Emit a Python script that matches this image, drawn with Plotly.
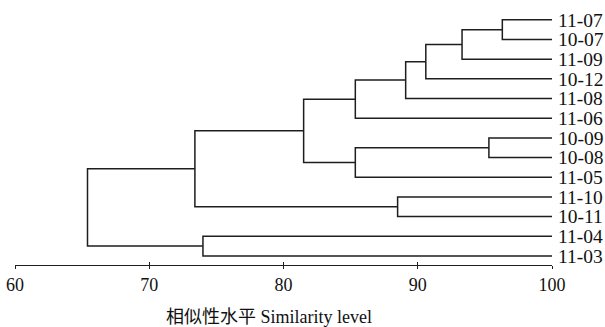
import plotly.graph_objects as go

# Leaf labels in display order (top to bottom)
leaves = ["11-07", "10-07", "11-09", "10-12", "11-08", "11-06",
          "10-09", "10-08", "11-05", "11-10", "10-11", "11-04", "11-03"]

# Merge steps: node ids 0..12 are leaves, each merge creates node 13, 14, ...
merge_left = [0, 13, 14, 15, 16, 6, 18, 17, 9, 20, 11, 22]
merge_right = [1, 2, 3, 4, 5, 7, 8, 19, 10, 21, 12, 23]
merge_level = [96.3, 93.3, 90.6, 89.1, 85.35, 95.3, 85.35, 81.5, 88.5, 73.4, 74.0, 65.4]

x_ticks = [60, 70, 80, 90, 100]

# Build dendrogram coordinates
pos = {i: float(i) for i in range(len(leaves))}
lvl = {i: 100.0 for i in range(len(leaves))}
xs, ys = [], []
nid = len(leaves)
for a, b, h in zip(merge_left, merge_right, merge_level):
    xs += [lvl[a], h, h, lvl[b], None]
    ys += [pos[a], pos[a], pos[b], pos[b], None]
    pos[nid] = (pos[a] + pos[b]) / 2
    lvl[nid] = h
    nid += 1

serif = "Times New Roman, Liberation Serif, Noto Sans CJK SC, serif"
line_col = "#1e1e1e"

fig = go.Figure()
fig.add_trace(go.Scatter(x=xs, y=ys, mode="lines",
                         line=dict(color=line_col, width=1.5),
                         hoverinfo="skip", showlegend=False))
# invisible trace to carry second x axis (upward tick halves)
fig.add_trace(go.Scatter(x=[60, 100], y=[None, None], xaxis="x2", mode="lines",
                         showlegend=False, hoverinfo="skip"))

fig.update_layout(
    width=605, height=327,
    margin=dict(l=15, r=53, t=10, b=62, autoexpand=False),
    paper_bgcolor="white", plot_bgcolor="white",
    font=dict(family=serif, color="#111111", size=18),
    xaxis=dict(range=[60, 100], tickvals=x_ticks, ticktext=[str(v) for v in x_ticks],
               showline=True, linecolor=line_col, linewidth=1.3,
               ticks="outside", ticklen=3, tickwidth=1.3, tickcolor=line_col,
               showgrid=False, zeroline=False, automargin=False,
               tickfont=dict(family=serif, size=18, color="#111111")),
    xaxis2=dict(range=[60, 100], overlaying="x", anchor="y", side="bottom",
                tickvals=x_ticks, ticks="inside", ticklen=3, tickwidth=1.3,
                tickcolor=line_col, showticklabels=False, showgrid=False,
                zeroline=False, showline=False, automargin=False),
    yaxis=dict(range=[12.46, -0.5], tickvals=list(range(len(leaves))), ticktext=leaves,
               side="right", showline=False, showgrid=False, zeroline=False,
               ticks="", ticklabelstandoff=5, automargin=False,
               tickfont=dict(family=serif, size=19.5, color="#111111")),
    annotations=[dict(text="相似性水平 Similarity level", xref="paper", yref="paper",
                      x=0.473, y=-0.204, xanchor="center", yanchor="middle",
                      showarrow=False, font=dict(family=serif, size=18, color="#111111"))],
)

fig.write_html("out.html", config={"displayModeBar": False},
               post_script="document.body.style.margin='0';document.body.style.overflow='hidden';")
